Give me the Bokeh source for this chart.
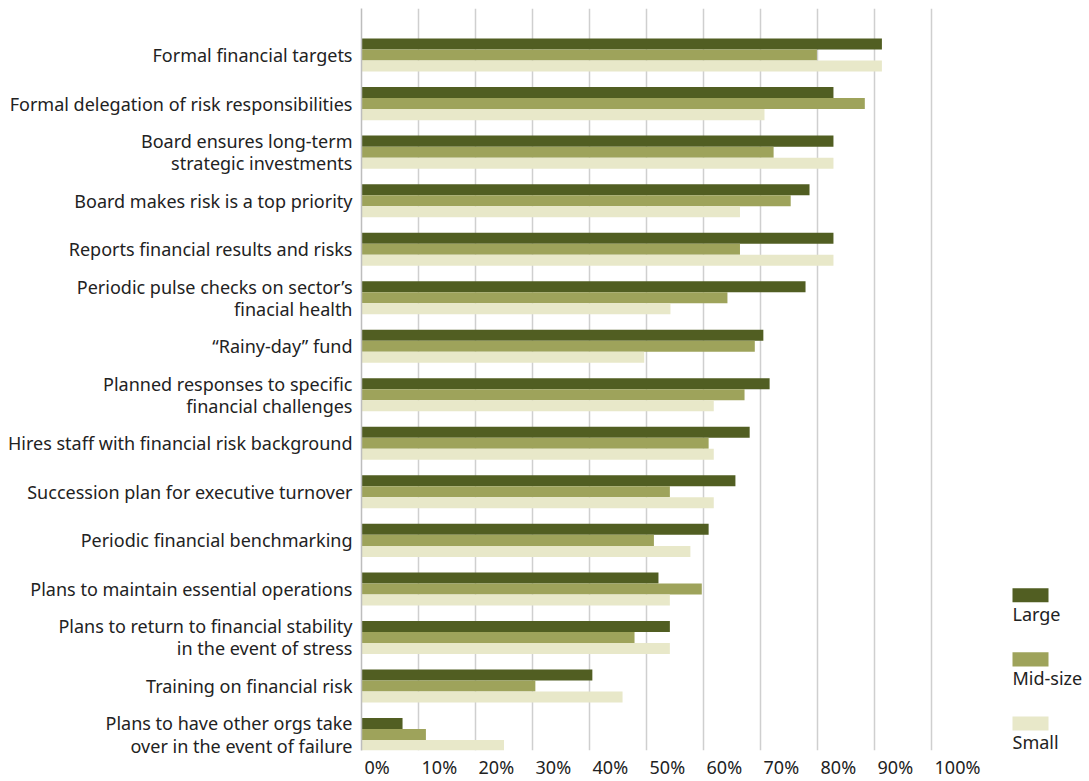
from bokeh.plotting import figure
from bokeh.models import Range1d, FixedTicker, ColumnDataSource
from bokeh.layouts import row
from bokeh.transform import dodge
from bokeh.embed import file_html
from bokeh.resources import INLINE
from bokeh.core.properties import value

categories = [
    "Formal financial targets",
    "Formal delegation of risk responsibilities",
    "Board ensures long-term\nstrategic investments",
    "Board makes risk is a top priority",
    "Reports financial results and risks",
    "Periodic pulse checks on sector\u2019s\nfinacial health",
    "\u201cRainy-day\u201d fund",
    "Planned responses to specific\nfinancial challenges",
    "Hires staff with financial risk background",
    "Succession plan for executive turnover",
    "Periodic financial benchmarking",
    "Plans to maintain essential operations",
    "Plans to return to financial stability\nin the event of stress",
    "Training on financial risk",
    "Plans to have other orgs take\nover in the event of failure",
]
large = [91.3, 82.8, 82.8, 78.6, 82.8, 77.9, 70.5, 71.6, 68.1, 65.6, 60.9, 52.1, 54.1, 40.5, 7.2]
mid = [79.9, 88.3, 72.3, 75.3, 66.4, 64.2, 69.0, 67.2, 60.9, 54.1, 51.3, 59.7, 47.9, 30.5, 11.3]
small = [91.3, 70.7, 82.8, 66.4, 82.8, 54.2, 49.6, 61.8, 61.8, 61.8, 57.7, 54.1, 54.1, 45.8, 25.0]
series = ["Large", "Mid-size", "Small"]
colors = ["#515e22", "#9ea35b", "#e8e8c9"]
x_ticks = list(range(0, 101, 10))
x_tick_labels = [f"{t}%" for t in x_ticks]

FONT = "Noto Sans"
FS = "18px"
TXT = "#222222"
H = 781
PX_PER_UNIT = 5.7       # 570 px for 0..100 %
MAIN_W = 991
LEFT = 361
x_end = (MAIN_W - LEFT) / PX_PER_UNIT   # frame runs on past 100% to leave room for the last label
n = len(categories)
ypos = [n - 1 - i for i in range(n)]
src = ColumnDataSource(dict(y=ypos, cat=categories, large=large, mid=mid, small=small))

p = figure(width=MAIN_W, height=H, x_range=Range1d(0, x_end), y_range=Range1d(-0.33, n - 1 + 0.96),
           output_backend="svg", toolbar_location=None,
           min_border_left=LEFT, min_border_right=0, min_border_top=8, min_border_bottom=0)
p.outline_line_color = None

bh = 0.227
for key, off, col in zip(["large", "mid", "small"], [bh, 0, -bh], colors):
    p.hbar(y=dodge("y", off, range=p.y_range), left=0, right=key, height=bh,
           source=src, fill_color=col, line_color=None)

p.ygrid.visible = False
p.xgrid.ticker = FixedTicker(ticks=x_ticks)
p.xgrid.grid_line_color = "#cfcfcf"
p.xgrid.grid_line_width = 1.5

p.yaxis.ticker = FixedTicker(ticks=ypos)
p.yaxis.major_label_overrides = {y: c for y, c in zip(ypos, categories)}
p.yaxis.major_tick_line_color = None
p.yaxis.major_tick_out = 0
p.yaxis.major_tick_in = 0
p.yaxis.minor_tick_line_color = None
p.yaxis.axis_line_color = "#bdbdbd"
p.yaxis.axis_line_width = 1.5
p.yaxis.major_label_standoff = 9
p.yaxis.major_label_text_font = FONT
p.yaxis.major_label_text_font_size = FS
p.yaxis.major_label_text_color = TXT
p.yaxis.major_label_text_line_height = 0.92

# x tick labels sit just to the right of their gridlines (label centre shifted by
# a small gap plus half the estimated label width)
def label_shift(lbl):
    w = 10.3 * (len(lbl) - 1) + 15.1
    return (3 + w / 2) / PX_PER_UNIT

lab_pos = [t + label_shift(l) for t, l in zip(x_ticks, x_tick_labels)]
p.xaxis.ticker = FixedTicker(ticks=lab_pos)
p.xaxis.major_label_overrides = {pos: l for pos, l in zip(lab_pos, x_tick_labels)}
p.xaxis.axis_line_color = None
p.xaxis.major_tick_line_color = None
p.xaxis.major_tick_out = 0
p.xaxis.major_tick_in = 0
p.xaxis.minor_tick_line_color = None
p.xaxis.major_label_standoff = 4
p.xaxis.major_label_text_font = FONT
p.xaxis.major_label_text_font_size = FS
p.xaxis.major_label_text_color = TXT

# legend panel (frame aligned with the main frame; y in page pixels)
lw = 98
lp = figure(width=lw, height=H, x_range=Range1d(0, lw), y_range=Range1d(749, 8),
            output_backend="svg", toolbar_location=None,
            min_border_left=0, min_border_right=0, min_border_top=8, min_border_bottom=0)
lp.outline_line_color = None
lp.axis.visible = False
lp.grid.visible = False
tops = [587 + 64 * k for k in range(len(series))]
lsrc = ColumnDataSource(dict(top=tops, bottom=[t + 14 for t in tops], ty=[t + 14 for t in tops],
                             name=series, color=colors))
lp.quad(left=21, right=57, top="top", bottom="bottom", fill_color="color", line_color=None, source=lsrc)
lp.text(x=21, y="ty", text="name", source=lsrc, text_font=value(FONT), text_font_size=FS,
        text_color=TXT, text_baseline="top", text_align="left")

layout = row(p, lp)
open("out.html", "w").write(file_html(layout, INLINE))
